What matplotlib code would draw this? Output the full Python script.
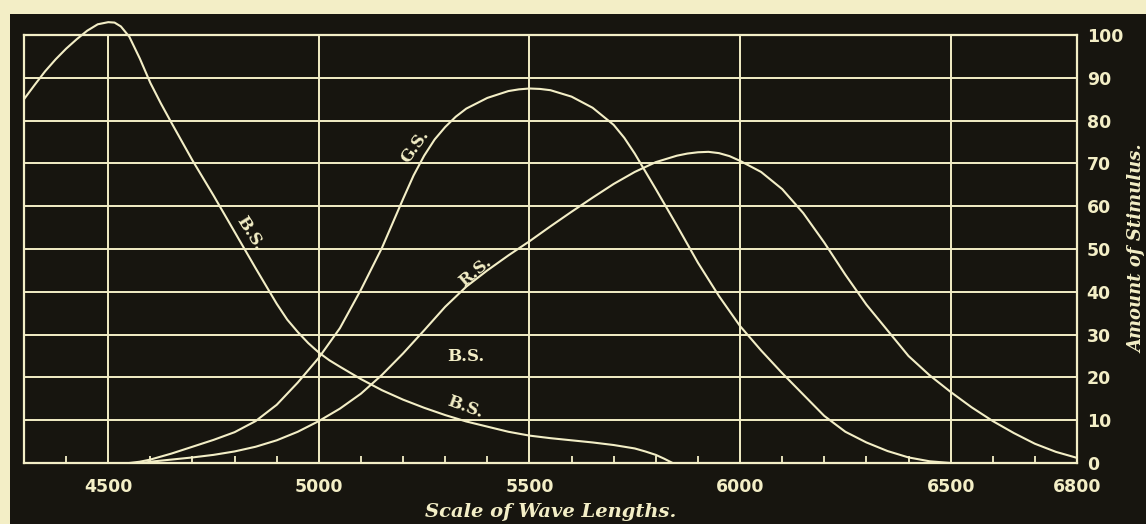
import numpy as np
import matplotlib
matplotlib.use("Agg")
import matplotlib.pyplot as plt
from matplotlib.patches import Rectangle

# colours of the old print
cream = "#f3eec6"
dark = "#17150f"

# wave lengths and stimulus values
bs_wave = [4300, 4325, 4350, 4375, 4400, 4425, 4450, 4475, 4500, 4515, 4530, 4550,
           4575, 4600, 4625, 4650, 4700, 4750, 4800, 4850, 4900, 4925, 4950, 4975,
           5000, 5025, 5050, 5100, 5150, 5200, 5250, 5300, 5350, 5400, 5450, 5500,
           5550, 5600, 5650, 5700, 5750, 5775, 5800, 5820, 5840]
bs_value = [85, 88.3, 91.5, 94.3, 96.8, 99, 101, 102.5, 103, 102.9, 102, 99.6,
            94.5, 88.8, 84, 79.5, 70.7, 62.5, 54, 45.5, 37.2, 33.5, 30.6, 28,
            25.8, 24, 22.5, 19.6, 17, 14.8, 12.9, 11.2, 9.7, 8.5, 7.3, 6.4,
            5.8, 5.3, 4.8, 4.2, 3.4, 2.7, 1.9, 1, 0]

gs_wave = [4550, 4575, 4600, 4650, 4700, 4750, 4800, 4850, 4900, 4950, 5000, 5050,
           5100, 5150, 5175, 5200, 5225, 5250, 5275, 5300, 5325, 5350, 5400, 5450,
           5475, 5500, 5525, 5550, 5600, 5650, 5700, 5725, 5750, 5800, 5850, 5900,
           5950, 6000, 6050, 6100, 6150, 6200, 6250, 6300, 6350, 6400, 6450, 6500]
gs_value = [0, 0.3, 0.8, 2.2, 3.8, 5.4, 7.2, 9.8, 13.6, 18.8, 24.6, 31.5,
            40.5, 50.3, 56, 61.7, 67.2, 71.8, 75.6, 78.5, 80.9, 82.8, 85.3, 86.9,
            87.3, 87.5, 87.4, 87.1, 85.6, 83, 79, 76, 72.3, 64, 55.5, 46.8,
            39, 32, 26.3, 21, 16, 11, 7.3, 4.8, 2.8, 1.3, 0.4, 0]

rs_wave = [4580, 4600, 4650, 4700, 4750, 4800, 4850, 4900, 4950, 5000, 5050, 5100,
           5150, 5200, 5250, 5300, 5350, 5400, 5450, 5500, 5550, 5600, 5650, 5700,
           5750, 5800, 5850, 5875, 5900, 5925, 5950, 5975, 6000, 6050, 6100, 6150,
           6200, 6250, 6300, 6350, 6400, 6450, 6500, 6550, 6600, 6650, 6700, 6750,
           6800]
rs_value = [0, 0.3, 0.8, 1.3, 1.9, 2.7, 3.8, 5.3, 7.3, 9.8, 12.7, 16.2,
            20.6, 25.6, 31, 36.5, 41.2, 45, 48.5, 51.8, 55.3, 58.7, 62, 65.2,
            68, 70.3, 71.8, 72.3, 72.6, 72.7, 72.4, 71.7, 70.6, 68, 64, 58.4,
            51.5, 44, 37, 31, 25, 20.5, 16.6, 13, 9.8, 7, 4.5, 2.6,
            1.2]

x_ticks = [4500, 5000, 5500, 6000, 6500, 6800]
x_grid = [4500, 5000, 5500, 6000, 6500]
y_ticks = list(range(0, 101, 10))

fig = plt.figure(figsize=(11.46, 5.24), dpi=100)
fig.patch.set_facecolor(cream)
# the black plate of the figure, with a cream margin on top and left
plate = Rectangle((10 / 1146, 0), 1, (524 - 14) / 524, transform=fig.transFigure,
                  facecolor=dark, edgecolor="none", zorder=-10)
fig.add_artist(plate)

ax = fig.add_axes([24 / 1146, 1 - 463 / 524, (1077 - 24) / 1146, (463 - 35) / 524])
ax.set_zorder(1)
ax.set_facecolor(dark)
ax.set_xlim(4300, 6800)
ax.set_ylim(0, 100)

# grid
for gx in x_grid:
    ax.axvline(gx, color=cream, linewidth=1.4, zorder=1)
for gy in y_ticks[1:-1]:
    ax.axhline(gy, color=cream, linewidth=1.4, zorder=1)
for side in ax.spines.values():
    side.set_color(cream)
    side.set_linewidth(1.6)

# the three curves
for wave, value in [(bs_wave, bs_value), (gs_wave, gs_value), (rs_wave, rs_value)]:
    ax.plot(wave, value, color=cream, linewidth=1.5, clip_on=False, zorder=3,
            solid_capstyle="round", solid_joinstyle="round")

# ticks
ax.set_xticks(x_ticks)
ax.set_xticklabels([str(t) for t in x_ticks])
ax.set_xticks(np.arange(4400, 6800, 100), minor=True)
ax.tick_params(axis="x", which="major", length=0, pad=11, labelsize=12.5,
               labelcolor=cream)
ax.tick_params(axis="x", which="minor", direction="in", length=5, width=1.3,
               color=cream)
ax.yaxis.tick_right()
ax.set_yticks(y_ticks)
ax.tick_params(axis="y", length=0, pad=7, labelsize=12.5, labelcolor=cream)
for lab in ax.get_xticklabels() + ax.get_yticklabels():
    lab.set_fontweight("bold")

# axis titles
ax.set_xlabel("Scale of Wave Lengths.", family="DejaVu Serif", style="italic",
              fontweight="bold", fontsize=14, color=cream, labelpad=5)
ax.yaxis.set_label_position("right")
ax.set_ylabel("Amount of Stimulus.", family="DejaVu Serif", style="italic",
              fontweight="bold", fontsize=13, color=cream, rotation=90,
              va="center", ha="center")
ax.yaxis.set_label_coords((1137 - 24) / (1077 - 24), 0.5)

# curve names
lab_style = dict(family="DejaVu Serif", fontweight="bold", fontsize=12,
                 color=cream, ha="center", va="center", zorder=4)
ax.text(4837, 53.7, "B.S.", rotation=-58, **lab_style)
ax.text(5228, 74, "G.S.", rotation=55, **lab_style)
ax.text(5373, 44.6, "R.S.", rotation=40, **lab_style)
ax.text(5349, 24.8, "B.S.", rotation=0, **lab_style)
ax.text(5347, 13.1, "B.S.", rotation=-20, **lab_style)

fig.savefig("out.png", dpi=100, facecolor=fig.get_facecolor())
